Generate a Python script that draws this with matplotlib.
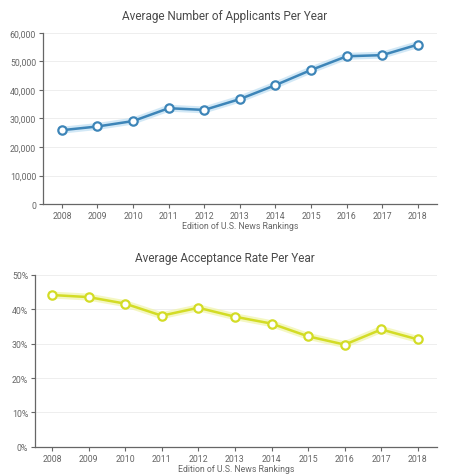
import matplotlib
matplotlib.use('Agg')
import matplotlib.pyplot as plt
from matplotlib.ticker import FuncFormatter

years = [2008, 2009, 2010, 2011, 2012, 2013, 2014, 2015, 2016, 2017, 2018]
applicants = [25900, 27200, 29100, 33600, 33000, 36800, 41700, 47000, 51800, 52200, 55900]
acceptance = [44.1, 43.5, 41.6, 38.1, 40.4, 37.8, 35.8, 32.1, 29.7, 34.1, 31.2]

plt.rcParams['font.family'] = ['Roboto', 'DejaVu Sans']

fig = plt.figure(figsize=(4.5, 4.77), dpi=100)
ax1 = fig.add_axes([0.0956, 0.570, 0.875, 0.359])
ax2 = fig.add_axes([0.078, 0.061, 0.893, 0.361])


def style(ax):
    for s in ['top', 'right']:
        ax.spines[s].set_visible(False)
    for s in ['left', 'bottom']:
        ax.spines[s].set_color('#666666')
        ax.spines[s].set_linewidth(0.9)
    ax.tick_params(axis='both', labelsize=6.3, colors='#666666', length=3, width=0.8, pad=2)
    ax.grid(axis='y', color='#eeeeee', linewidth=0.7)
    ax.set_axisbelow(True)
    ax.set_xticks(years)
    ax.set_xticklabels([str(y) for y in years])
    ax.set_xlabel('Edition of U.S. News Rankings', fontsize=6.3, color='#666666', labelpad=1)


style(ax1)
fig.text(0.5, 0.966, 'Average Number of Applicants Per Year', ha='center', va='center',
         fontsize=8.5, color='#4a4a4a')
ax1.plot(years, applicants, color='#b5daf0', linewidth=5, alpha=0.6, zorder=2)
ax1.plot(years, applicants, color='#3d85b8', linewidth=1.8, marker='o', markersize=6,
         markerfacecolor='white', markeredgecolor='#3d85b8', markeredgewidth=1.6, zorder=3)
ax1.set_xlim(2007.47, 2018.53)
ax1.set_ylim(0, 60000)
ax1.set_yticks(range(0, 60001, 10000))
ax1.yaxis.set_major_formatter(FuncFormatter(lambda v, p: '{:,}'.format(int(v))))

style(ax2)
fig.text(0.5, 0.459, 'Average Acceptance Rate Per Year', ha='center', va='center',
         fontsize=8.5, color='#4a4a4a')
ax2.plot(years, acceptance, color='#f0f4a8', linewidth=5, alpha=0.7, zorder=2)
ax2.plot(years, acceptance, color='#d3dc26', linewidth=1.8, marker='o', markersize=6,
         markerfacecolor='white', markeredgecolor='#d3dc26', markeredgewidth=1.6, zorder=3)
ax2.set_xlim(2007.54, 2018.52)
ax2.set_ylim(0, 50)
ax2.set_yticks(range(0, 51, 10))
ax2.yaxis.set_major_formatter(FuncFormatter(lambda v, p: '{}%'.format(int(v))))

fig.savefig('out.png', dpi=100, facecolor='white')
